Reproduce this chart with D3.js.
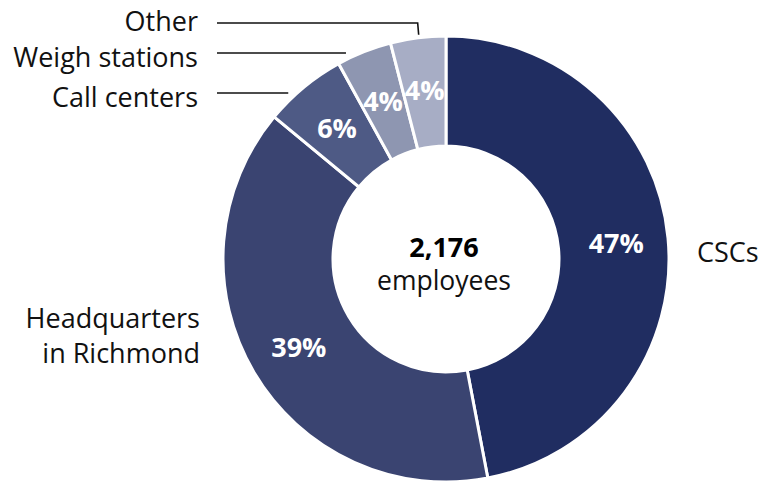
<!DOCTYPE html>
<html>
<head>
<meta charset="utf-8">
<script src="https://cdn.jsdelivr.net/npm/d3@7"></script>
<style>
  html, body { margin: 0; padding: 0; background: #fff; }
  svg text { font-family: "Open Sans", "Noto Sans", sans-serif; }
</style>
</head>
<body>
<svg id="chart" width="759" height="485"></svg>
<script>
// Employees by work location (share of 2,176)
const categories = ["CSCs", "Headquarters in Richmond", "Call centers", "Weigh stations", "Other"];
const shares = [47, 39, 6, 4, 4];
const colors = ["#202d61", "#3a4471", "#4e5a85", "#8e96b1", "#a7adc5"];
const totalEmployees = "2,176";
const centerCaption = "employees";

const svg = d3.select("#chart");
const cx = 446, cy = 259;
const outerR = 223, innerR = 113;

const data = categories.map((c, i) => ({ name: c, value: shares[i], color: colors[i] }));

const pie = d3.pie().value(d => d.value).sort(null);
const arcs = pie(data);
const arc = d3.arc().innerRadius(innerR).outerRadius(outerR);
const labelArc = d3.arc().innerRadius(171).outerRadius(171);

const g = svg.append("g").attr("transform", `translate(${cx},${cy})`);

g.selectAll("path.slice")
  .data(arcs)
  .join("path")
  .attr("class", "slice")
  .attr("d", arc)
  .attr("fill", d => d.data.color)
  .attr("stroke", "#fff")
  .attr("stroke-width", 3)
  .attr("stroke-linejoin", "miter");

g.selectAll("text.pct")
  .data(arcs)
  .join("text")
  .attr("class", "pct")
  .attr("transform", d => `translate(${labelArc.centroid(d)})`)
  .attr("text-anchor", "middle")
  .attr("dominant-baseline", "central")
  .attr("fill", "#fff")
  .attr("font-weight", 700)
  .attr("font-size", 27)
  .text(d => d.data.value + "%");

// Centre caption
g.append("text")
  .attr("x", -2).attr("y", -2)
  .attr("text-anchor", "middle")
  .attr("font-weight", 700)
  .attr("font-size", 27)
  .attr("fill", "#000")
  .text(totalEmployees);
g.append("text")
  .attr("x", -2).attr("y", 31)
  .attr("text-anchor", "middle")
  .attr("font-size", 26.5)
  .attr("fill", "#111")
  .text(centerCaption);

// Category labels
const labelSize = 27;
const label = (x, y, anchor, txt) =>
  svg.append("text").attr("x", x).attr("y", y)
    .attr("text-anchor", anchor)
    .attr("font-size", labelSize)
    .attr("fill", "#111")
    .text(txt);

label(697, 262, "start", categories[0]);
label(200, 328, "end", "Headquarters");
label(200, 363, "end", "in Richmond");
label(198, 31, "end", categories[4]);
label(198, 67, "end", categories[3]);
label(198, 107, "end", categories[2]);

// Leader lines for the thin slices
const leaderY = { "Other": 23, "Weigh stations": 53, "Call centers": 93 };
const leaderStartX = 217;
arcs.slice(2).forEach(d => {
  const y = leaderY[d.data.name];
  const mid = (d.startAngle + d.endAngle) / 2;
  const pts = [[leaderStartX, y]];
  if (d.data.name === "Other") {
    const ex = cx + Math.sin(mid) * (outerR + 3);
    pts.push([ex, y], [ex + 1, cy - Math.cos(mid) * (outerR + 3)]);
  } else {
    // run horizontally until just short of the slice's outer edge
    const dy = y - cy;
    const ex = cx - Math.sqrt(Math.max(0, (outerR + 6) ** 2 - dy * dy));
    pts.push([ex, y]);
  }
  svg.append("path")
    .attr("d", d3.line()(pts))
    .attr("fill", "none")
    .attr("stroke", "#111")
    .attr("stroke-width", 1.6);
});
</script>
</body>
</html>
